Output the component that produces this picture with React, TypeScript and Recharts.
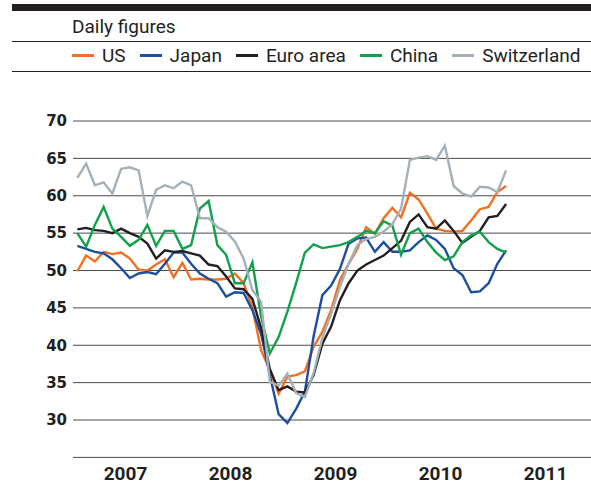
import { LineChart, Line, XAxis, YAxis, CartesianGrid } from 'recharts';

// monthly readings, Jan 2007 - Feb 2011
const years = ['2007', '2008', '2009', '2010', '2011'];
const yTicks = [30, 35, 40, 45, 50, 55, 60, 65, 70];

const us = [
  49.9, 52.0, 51.2, 52.5, 52.2, 52.4, 51.6, 50.1, 50.0, 50.8,
  51.5, 49.1, 51.0, 48.8, 48.9, 48.8, 48.8, 48.9, 49.6, 48.3,
  45.1, 39.3, 36.7, 33.5, 35.8, 36.0, 36.5, 39.8, 41.8, 44.7,
  48.7, 50.9, 52.9, 55.8, 54.9, 57.0, 58.4, 57.1, 60.4, 59.5,
  57.6, 55.6, 55.3, 55.2, 55.3, 56.7, 58.2, 58.5, 60.5, 61.3,
];
const japan = [
  53.3, 52.9, 52.5, 52.3, 51.5, 50.3, 49.0, 49.6, 49.8, 49.5,
  50.9, 52.4, 52.4, 50.9, 49.6, 48.9, 48.3, 46.5, 47.1, 47.0,
  44.7, 41.5, 36.0, 30.8, 29.6, 31.5, 33.8, 41.2, 46.7, 48.0,
  50.2, 53.6, 54.3, 54.4, 52.5, 53.8, 52.5, 52.5, 52.7, 53.8,
  54.7, 54.1, 52.9, 50.3, 49.4, 47.1, 47.2, 48.3, 50.9, 52.7,
];
const euro = [
  55.5, 55.7, 55.4, 55.3, 55.0, 55.6, 55.0, 54.5, 53.6, 51.6,
  52.7, 52.5, 52.6, 52.3, 52.0, 50.8, 50.6, 49.2, 47.6, 47.5,
  46.2, 42.3, 36.8, 34.0, 34.5, 33.8, 33.7, 36.0, 40.2, 42.5,
  46.0, 48.3, 50.0, 50.8, 51.4, 52.0, 53.0, 54.0, 56.5, 57.5,
  55.8, 55.6, 56.7, 55.3, 53.7, 54.5, 55.3, 57.1, 57.3, 58.9,
];
const china = [
  55.0, 53.2, 56.1, 58.5, 55.6, 54.5, 53.3, 54.1, 56.1, 53.3,
  55.3, 55.3, 52.9, 53.4, 58.3, 59.3, 53.4, 52.1, 48.3, 48.3,
  51.1, 43.8, 38.9, 41.1, 44.5, 48.3, 52.4, 53.5, 53.0, 53.2,
  53.4, 53.8, 54.5, 55.3, 55.0, 56.6, 56.0, 52.1, 55.0, 55.6,
  53.8, 52.4, 51.4, 51.9, 53.8, 54.7, 55.2, 53.8, 52.9, 52.4,
];
const swiss = [
  62.4, 64.3, 61.4, 61.8, 60.3, 63.6, 63.8, 63.4, 57.3, 60.8,
  61.4, 61.0, 61.9, 61.4, 57.0, 57.0, 55.8, 55.2, 53.9, 51.6,
  47.4, 45.8, 35.1, 34.6, 36.2, 33.6, 33.1, 36.3, 41.0, 44.2,
  47.8, 50.9, 53.4, 54.2, 54.5, 55.2, 56.2, 58.3, 64.8, 65.1,
  65.3, 64.8, 66.7, 61.3, 60.3, 59.9, 61.2, 61.1, 60.5, 63.4,
];

const series = [
  { key: 'us', name: 'US', color: '#f37021', values: us },
  { key: 'japan', name: 'Japan', color: '#1d4f9f', values: japan },
  { key: 'euro', name: 'Euro area', color: '#231f20', values: euro },
  { key: 'china', name: 'China', color: '#12a14b', values: china },
  { key: 'swiss', name: 'Switzerland', color: '#a5b0b8', values: swiss },
];

// month index -> mid-month position on a 12-per-year numeric axis
const data = us.map((_, i) => {
  const row: Record<string, number> = { t: i + 0.5 };
  series.forEach(s => { row[s.key] = s.values[i]; });
  return row;
});

const yearStarts = years.map((_, i) => i * 12).concat(years.length * 12);
const yearMids = years.map((_, i) => i * 12 + 6);

const ink = '#231f20';
const rule = (top: number, height: number) => (
  <div style={{ position: 'absolute', left: 12, top, width: 579, height, background: ink }} />
);

export default function App() {
  return (
    <div
      style={{
        position: 'absolute',
        left: 0,
        top: 0,
        width: 591,
        height: 486,
        overflow: 'hidden',
        background: '#fff',
        fontFamily: 'Roboto, sans-serif',
        color: ink,
      }}
    >
      {rule(4, 7)}
      <div style={{ position: 'absolute', left: 72, top: 17, fontSize: 19, lineHeight: 1, whiteSpace: 'nowrap' }}>
        Daily figures
      </div>
      {rule(41, 1)}
      <div
        style={{
          position: 'absolute',
          left: 72,
          top: 45.5,
          height: 20,
          display: 'flex',
          alignItems: 'center',
          fontSize: 19,
          lineHeight: 1,
          whiteSpace: 'nowrap',
        }}
      >
        {series.map(s => (
          <div key={s.key} style={{ display: 'flex', alignItems: 'center', marginRight: 14, flexShrink: 0 }}>
            <span style={{ width: 22, height: 2.5, background: s.color, marginRight: 8 }} />
            <span>{s.name}</span>
          </div>
        ))}
      </div>
      {rule(71, 1)}

      <LineChart
        width={598}
        height={486}
        data={data}
        margin={{ top: 121, right: 0, bottom: 0, left: 0 }}
      >
        <CartesianGrid vertical={false} stroke="#4a4a4a" xAxisId="years" />
        <XAxis
          xAxisId="bounds"
          type="number"
          dataKey="t"
          domain={[0, 60]}
          ticks={yearStarts}
          tick={false}
          tickSize={-7}
          height={0}
          axisLine={{ stroke: ink, strokeWidth: 1.3 }}
          tickLine={{ stroke: '#555' }}
        />
        <XAxis
          xAxisId="years"
          type="number"
          dataKey="t"
          domain={[0, 60]}
          ticks={yearMids}
          tickFormatter={(v: number) => years[Math.floor(v / 12)]}
          axisLine={false}
          tickLine={false}
          tickSize={0}
          tickMargin={9}
          height={28.6}
          tick={{ fontSize: 19, fontWeight: 700, fill: ink, fontFamily: 'Roboto' }}
        />
        <YAxis
          domain={[25, 70]}
          ticks={yTicks}
          width={73}
          axisLine={false}
          tickLine={false}
          tickSize={0}
          tickMargin={6}
          tick={{ fontSize: 15, fontWeight: 700, fill: ink, fontFamily: 'DejaVu Sans' }}
        />
        {series.map(s => (
          <Line
            key={s.key}
            xAxisId="years"
            dataKey={s.key}
            stroke={s.color}
            strokeWidth={2.4}
            dot={false}
            isAnimationActive={false}
          />
        ))}
      </LineChart>
    </div>
  );
}
